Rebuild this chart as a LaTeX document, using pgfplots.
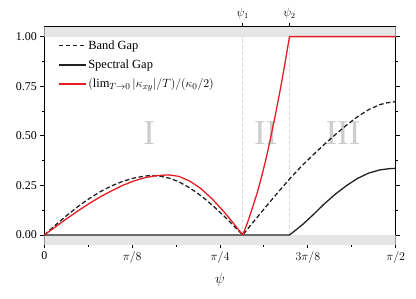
\documentclass[border=0pt]{standalone}
\usepackage{fontspec}
\setmainfont{Liberation Serif}
\usepackage{pgfplots}
\pgfplotsset{compat=1.18}
\definecolor{myred}{RGB}{228,30,36}
\definecolor{bandgray}{RGB}{230,230,230}
\definecolor{vgray}{RGB}{218,218,218}
\definecolor{numgray}{RGB}{205,205,205}
\definecolor{dk}{RGB}{34,34,34}
\begin{document}
\begin{tikzpicture}
\begin{axis}[
  at={(0,0)}, anchor=south west,
  scale only axis, width=351.4bp, height=217.6bp,
  xmin=0, xmax=1.570796, ymin=-0.047, ymax=1.05,
  axis line style={line width=1bp},
  xtick={0,0.392699,0.785398,1.178097,1.570796},
  xticklabels={0,$\pi/8$,$\pi/4$,$3\pi/8$,$\pi/2$},
  minor xtick={0.19635,0.589049,0.981748,1.374447},
  ytick={0,0.25,0.5,0.75,1},
  yticklabels={0.00,0.25,0.50,0.75,1.00},
  minor ytick={0.125,0.375,0.625,0.875},
  xtick pos=left, ytick pos=both,
  xticklabel pos=left, yticklabel pos=left,
  tick align=outside,
  major tick length=4bp, minor tick length=2.5bp,
  tick style={line width=0.9bp, black},
  ticklabel style={font=\fontsize{12}{14}\selectfont},
  xlabel={$\psi$}, xlabel style={font=\fontsize{14}{16}\selectfont, yshift=-3bp},
  legend style={draw=none, fill=none, at={(0.03,0.955)}, anchor=north west,
    font=\fontsize{12.5}{14}\selectfont, row sep=5bp},
  legend cell align=left,
  legend image code/.code={\draw[#1] (0bp,0bp) -- (27bp,0bp);},
]
\addplot[fill=bandgray, draw=none, forget plot] coordinates {(0,1) (1.570796,1) (1.570796,1.06) (0,1.06)} -- cycle;
\addplot[fill=bandgray, draw=none, forget plot] coordinates {(0,0) (1.570796,0) (1.570796,-0.06) (0,-0.06)} -- cycle;
\addplot[vgray, line width=1bp, dash pattern=on 3.5bp off 2.5bp, forget plot] coordinates {(0.887,0) (0.887,1)};
\addplot[vgray, line width=1bp, dash pattern=on 3.5bp off 2.5bp, forget plot] coordinates {(1.096,0) (1.096,1)};
\node[text=numgray, font=\fontsize{35}{35}\selectfont] at (axis cs:0.469,0.512) {I};
\node[text=numgray, font=\fontsize{35}{35}\selectfont] at (axis cs:0.990,0.512) {II};
\node[text=numgray, font=\fontsize{35}{35}\selectfont] at (axis cs:1.335,0.512) {III};
\addplot[dk, line width=1.3bp, dash pattern=on 4.5bp off 2.5bp] coordinates {
(0,0) (0.05,0.050) (0.10,0.098) (0.15,0.143) (0.20,0.183) (0.25,0.218) (0.30,0.247) (0.35,0.270) (0.40,0.287) (0.45,0.297) (0.48,0.300) (0.52,0.296) (0.56,0.286) (0.60,0.269) (0.64,0.244) (0.68,0.215) (0.72,0.180) (0.76,0.141) (0.80,0.099) (0.84,0.054) (0.887,0) (0.95,0.087) (1.00,0.155) (1.05,0.222) (1.10,0.287) (1.15,0.347) (1.20,0.402) (1.25,0.455) (1.30,0.505) (1.35,0.553) (1.40,0.596) (1.45,0.632) (1.50,0.657) (1.53,0.666) (1.5708,0.672)};
\addlegendentry{Band Gap}
\addplot[dk, line width=1.3bp] coordinates {
(0,0) (1.096,0) (1.13,0.030) (1.16,0.058) (1.20,0.100) (1.25,0.155) (1.30,0.205) (1.35,0.248) (1.40,0.285) (1.45,0.312) (1.50,0.328) (1.54,0.334) (1.5708,0.336)};
\addlegendentry{Spectral Gap}
\addplot[myred, line width=1.3bp, line join=round] coordinates {
(0,0) (0.05,0.041) (0.10,0.082) (0.15,0.121) (0.20,0.158) (0.25,0.192) (0.30,0.222) (0.35,0.250) (0.40,0.272) (0.45,0.289) (0.50,0.299) (0.554,0.303) (0.60,0.296) (0.65,0.272) (0.70,0.234) (0.75,0.182) (0.80,0.121) (0.84,0.067) (0.887,0) (0.908,0.061) (0.929,0.132) (0.950,0.206) (0.971,0.292) (0.992,0.388) (1.012,0.492) (1.033,0.606) (1.054,0.728) (1.075,0.860) (1.096,1) (1.5708,1)};
\addlegendentry{$\bigl(\lim_{T\to0}|\kappa_{xy}|/T\bigr)/(\kappa_0/2)$}
\end{axis}
\begin{axis}[
  at={(0,0)}, anchor=south west,
  scale only axis, width=351.4bp, height=217.6bp,
  xmin=0, xmax=1.570796, ymin=-0.047, ymax=1.05,
  axis x line*=top, axis y line=none,
  axis line style={line width=1bp},
  xtick={0.887,1.096}, xticklabels={$\psi_1$,$\psi_2$},
  tick align=outside, major tick length=4bp,
  tick style={line width=0.9bp, black},
  ticklabel style={font=\fontsize{12}{14}\selectfont},
]
\end{axis}
\path (-44.3bp,-54.7bp) rectangle (371.7bp,244.3bp);
\end{tikzpicture}
\end{document}
